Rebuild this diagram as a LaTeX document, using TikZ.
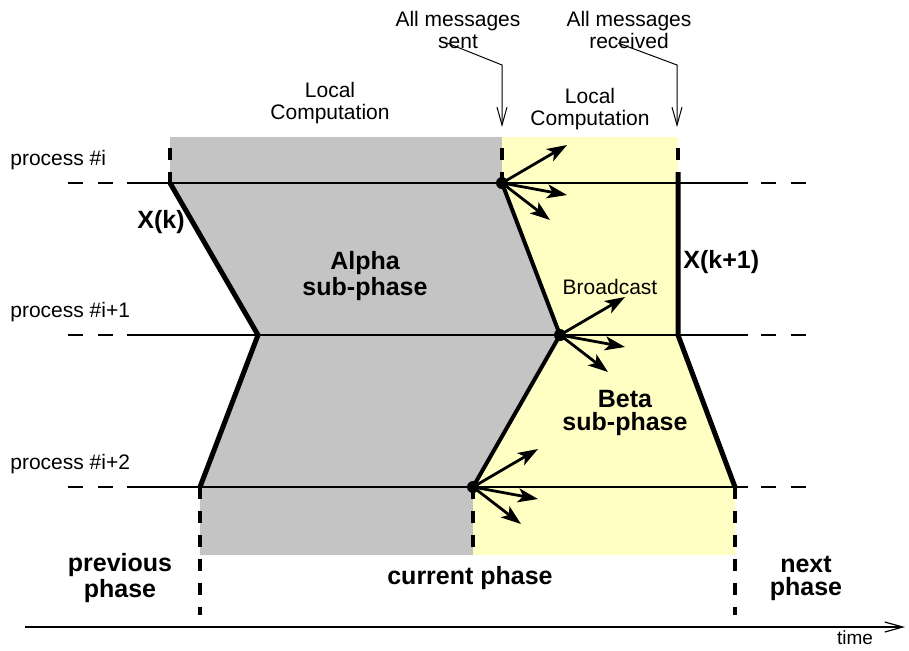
\documentclass[tikz,border=0pt]{standalone}
\usepackage{fontspec}
\setmainfont{Liberation Sans}
\usetikzlibrary{arrows.meta,positioning}
\definecolor{alphagray}{RGB}{196,196,196}
\definecolor{betayellow}{RGB}{255,255,196}

\begin{document}
\begin{tikzpicture}[x=0.5pt,y=-0.5pt,
	lbl/.style={font=\fontsize{10.5}{11}\selectfont,align=center,inner sep=0pt},
	blbl/.style={font=\fontsize{12.5}{11.5}\selectfont\bfseries,align=center,inner sep=0pt},
	proc/.style={line width=0.6pt},
	ext/.style={line width=0.6pt,dash pattern=on 7.5pt off 7.5pt},
	border/.style={line width=2.5pt,line join=miter},
	cut/.style={line width=2pt,dash pattern=on 6pt off 6pt},
	msg/.style={line width=1.4pt,-{Stealth[length=10pt,width=7pt,inset=2.5pt]}},
	pointer/.style={line width=0.5pt,-{Straight Barb[length=9pt,width=5pt]}}]
	\useasboundingbox (0,0) rectangle (909,650);
	% phase boundaries
	\coordinate (ai)  at (170,183);
	\coordinate (ai1) at (258,335);
	\coordinate (ai2) at (200,487);
	\coordinate (bi)  at (502,183);
	\coordinate (bi1) at (560,335);
	\coordinate (bi2) at (473,487);
	\coordinate (ci)  at (678,172);
	\coordinate (ci1) at (678,335);
	\coordinate (ci2) at (735,487);
	% sub-phases
	\fill[alphagray] (170,137) -- (502,137) -- (bi) -- (bi1) -- (bi2) -- (473,555)
		-- (200,555) -- (ai2) -- (ai1) -- (ai) -- cycle;
	\fill[betayellow] (502,137) -- (678,137) -- (ci1) -- (ci2) -- (735,555)
		-- (473,555) -- (bi2) -- (bi1) -- (bi) -- cycle;
	% processes
	\foreach \y/\name in {183/i,335/i+1,487/i+2}{
		\node[lbl,anchor=west] (p\y) at (10,\y-23) {process \#\name};
		\draw[ext] (68,\y) -- (127,\y);
		\draw[proc] (127,\y) -- (748,\y);
		\draw[ext] (806,\y) -- (748,\y);
	}
	\draw[border] (ai) -- (ai1) -- (ai2);
	\draw[border,line width=2pt] (bi) -- (bi1) -- (bi2);
	\draw[border] (ci) -- (ci1) -- (ci2);
	\draw[cut] (170,148) -- (ai);
	\draw[cut] (502,148) -- (bi);
	\draw[cut] (678,148) -- (ci);
	\draw[cut] (ai2) -- (200,615);
	\draw[cut] (bi2) -- (473,555);
	\draw[cut] (ci2) -- (735,615);
	% broadcasts
	\foreach \p in {bi,bi1,bi2}{
		\foreach \dx/\dy in {65/-38,65/12,48/37}
			\draw[msg] (\p) -- ++(\dx,\dy);
		\fill (\p) circle (3pt);
	}
	% labels
	\node[lbl] (lc1) at (330,103) {Local\\Computation};
	\node[lbl] (lc2) at (590,109) {Local\\Computation};
	\node[lbl] (sent) at (458,30) {All messages\\sent};
	\node[lbl] (recv) at (629,30) {All messages\\received};
	\coordinate (sentfrom) at (447,43);
	\coordinate (recvfrom) at (618,43);
	\draw[pointer] (sentfrom) -- (502,65) -- (502,127);
	\draw[pointer] (recvfrom) -- (677,65) -- (677,127);
	\node[blbl] (xk) at (161,222) {X(k)};
	\node[blbl,anchor=west] (xk1) at (683,262) {X(k+1)};
	\node[blbl] (alpha) at (365,276) {Alpha\\sub-phase};
	\node[blbl] (beta) at (625,413) {Beta\\sub-phase};
	\node[lbl] (bcast) at (610,287) {Broadcast};
	\node[blbl] (prev) at (120,578) {previous\\phase};
	\node[blbl] (cur) at (470,578) {current phase};
	\node[blbl] (next) at (806,578) {next\\phase};
	% time axis
	\coordinate (t0) at (25,627);
	\coordinate (t1) at (905,627);
	\draw[pointer,line width=0.6pt] (t0) -- (t1);
	\node[lbl,font=\fontsize{9.5}{10}\selectfont] (time) at (855,638) {time};
\end{tikzpicture}
\end{document}
